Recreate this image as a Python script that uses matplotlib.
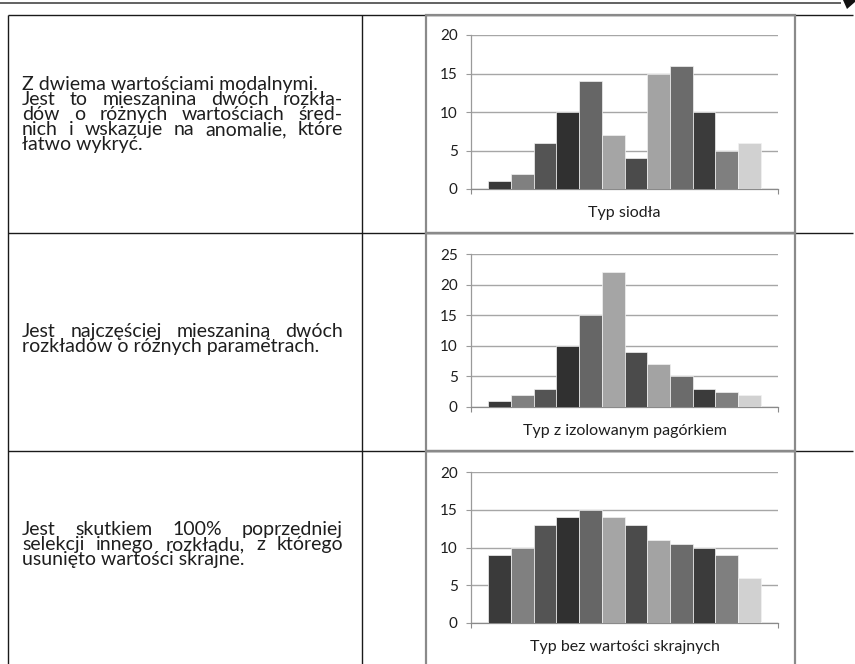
import matplotlib

matplotlib.use("Agg")
import matplotlib.pyplot as plt
from matplotlib.patches import Polygon, Rectangle

W, H = 855, 664

# --- data ---
saddle_vals = [1, 2, 6, 10, 14, 7, 4, 15, 16, 10, 5, 6]
hill_vals = [1, 2, 3, 10, 15, 22, 9, 7, 5, 3, 2.5, 2]
flat_vals = [9, 10, 13, 14, 15, 14, 13, 11, 10.5, 10, 9, 6]
chart_titles = ["Typ siodła", "Typ z izolowanym pagórkiem", "Typ bez wartości skrajnych"]
chart_ymax = [20, 25, 20]
bar_colors = ["#3a3a3a", "#808080", "#545454", "#303030", "#666666", "#a5a5a5",
              "#4b4b4b", "#a3a3a3", "#6b6b6b", "#3b3b3b", "#7f7f7f", "#d1d1d1"]

# paragraphs (line breaks as in the reference) and which lines are justified
para_saddle = ["Z dwiema wartościami modalnymi.",
               "Jest to mieszanina dwóch rozkła-",
               "dów o różnych wartościach śred-",
               "nich i wskazuje na anomalie, które",
               "łatwo wykryć."]
just_saddle = [False, True, True, True, False]
para_hill = ["Jest najczęściej mieszaniną dwóch",
             "rozkładów o różnych parametrach."]
just_hill = [True, False]
para_flat = ["Jest skutkiem 100% poprzedniej",
             "selekcji innego rozkładu, z którego",
             "usunięto wartości skrajne."]
just_flat = [True, True, False]

TXT_FONT = "Lato"
CHART_FONT = "Lato"
TXT_SIZE = 14
LINE_STEP = 15.0

fig = plt.figure(figsize=(W / 100, H / 100), dpi=100)
fig.patch.set_facecolor("white")

# pixel-space overlay for the table frame and text
page = fig.add_axes([0, 0, 1, 1])
page.set_xlim(0, W)
page.set_ylim(H, 0)
page.axis("off")

# header rule and corner mark
page.plot([0, 841], [3.3, 3.3], color="#555555", lw=1.3, solid_capstyle="butt")
page.add_patch(Polygon([[843, 0], [855, 0], [855, 2], [847, 9]], closed=True,
                       color="#111111", lw=0))

# table grid
tcol = "#1a1a1a"
for y in (15, 233, 451):
    page.plot([8, 853], [y, y], color=tcol, lw=1.0, solid_capstyle="butt")
for x in (8, 362):
    page.plot([x, x], [15, H], color=tcol, lw=1.0, solid_capstyle="butt")

# gray chart frames
for top, bot in ((15, 233), (233, 451), (451, H + 5)):
    page.add_patch(Rectangle((426, top), 795 - 426, bot - top, fill=False,
                             edgecolor="#8a8a8a", lw=1.6, zorder=3))

renderer = fig.canvas.get_renderer()


def write_line(text, x0, x1, y, justify):
    if not justify:
        page.text(x0, y, text, fontsize=TXT_SIZE, family=TXT_FONT, color="#1e1e1e",
                  ha="left", va="baseline")
        return
    words = text.split(" ")
    arts = [page.text(0, y, w, fontsize=TXT_SIZE, family=TXT_FONT, color="#1e1e1e",
                      ha="left", va="baseline") for w in words]
    widths = [a.get_window_extent(renderer).width for a in arts]
    gap = (x1 - x0 - sum(widths)) / (len(words) - 1)
    x = x0
    for a, w in zip(arts, widths):
        a.set_x(x)
        x += w + gap


for lines, flags, base in ((para_saddle, just_saddle, 90),
                           (para_hill, just_hill, 337),
                           (para_flat, just_flat, 535)):
    for i, (ln, fl) in enumerate(zip(lines, flags)):
        write_line(ln, 22, 343, base + i * LINE_STEP, fl)

# bar charts
boxes = [(35, 189), (254, 407), (472, 623)]
for vals, title, ymax, (top, bot) in zip((saddle_vals, hill_vals, flat_vals),
                                         chart_titles, chart_ymax, boxes):
    left, right = 471, 778
    ax = fig.add_axes([left / W, 1 - bot / H, (right - left) / W, (bot - top) / H])
    ax.set_facecolor("none")
    xs = list(range(len(vals)))
    ax.bar(xs, vals, width=1.0, color=bar_colors, edgecolor="#f2f2f2", linewidth=0.5,
           zorder=3)
    ax.set_xlim(-1.25, len(vals) + 0.25)
    ax.set_ylim(0, ymax)
    ax.set_yticks(range(0, ymax + 1, 5))
    ax.set_xticks([-1.25, len(vals) + 0.25])
    ax.set_xticklabels([])
    ax.yaxis.grid(True, color="#a6a6a6", lw=1.0, zorder=0)
    for side in ("top", "right"):
        ax.spines[side].set_visible(False)
    ax.spines["left"].set_color("#9a9a9a")
    ax.spines["bottom"].set_color("#8a8a8a")
    ax.spines["left"].set_linewidth(0.9)
    ax.spines["bottom"].set_linewidth(0.9)
    ax.tick_params(axis="y", length=3.5, width=0.8, color="#9a9a9a", pad=6,
                   labelsize=11, labelcolor="#1e1e1e")
    ax.tick_params(axis="x", length=3.5, width=0.8, color="#8a8a8a")
    for lab in ax.get_yticklabels():
        lab.set_family(CHART_FONT)
    ax.annotate(title, xy=(0.5, 0), xycoords="axes fraction", xytext=(0, -17),
                textcoords="offset points", ha="center", va="center",
                fontsize=11.5, family=CHART_FONT, color="#1e1e1e")

fig.savefig("out.png", dpi=100)
